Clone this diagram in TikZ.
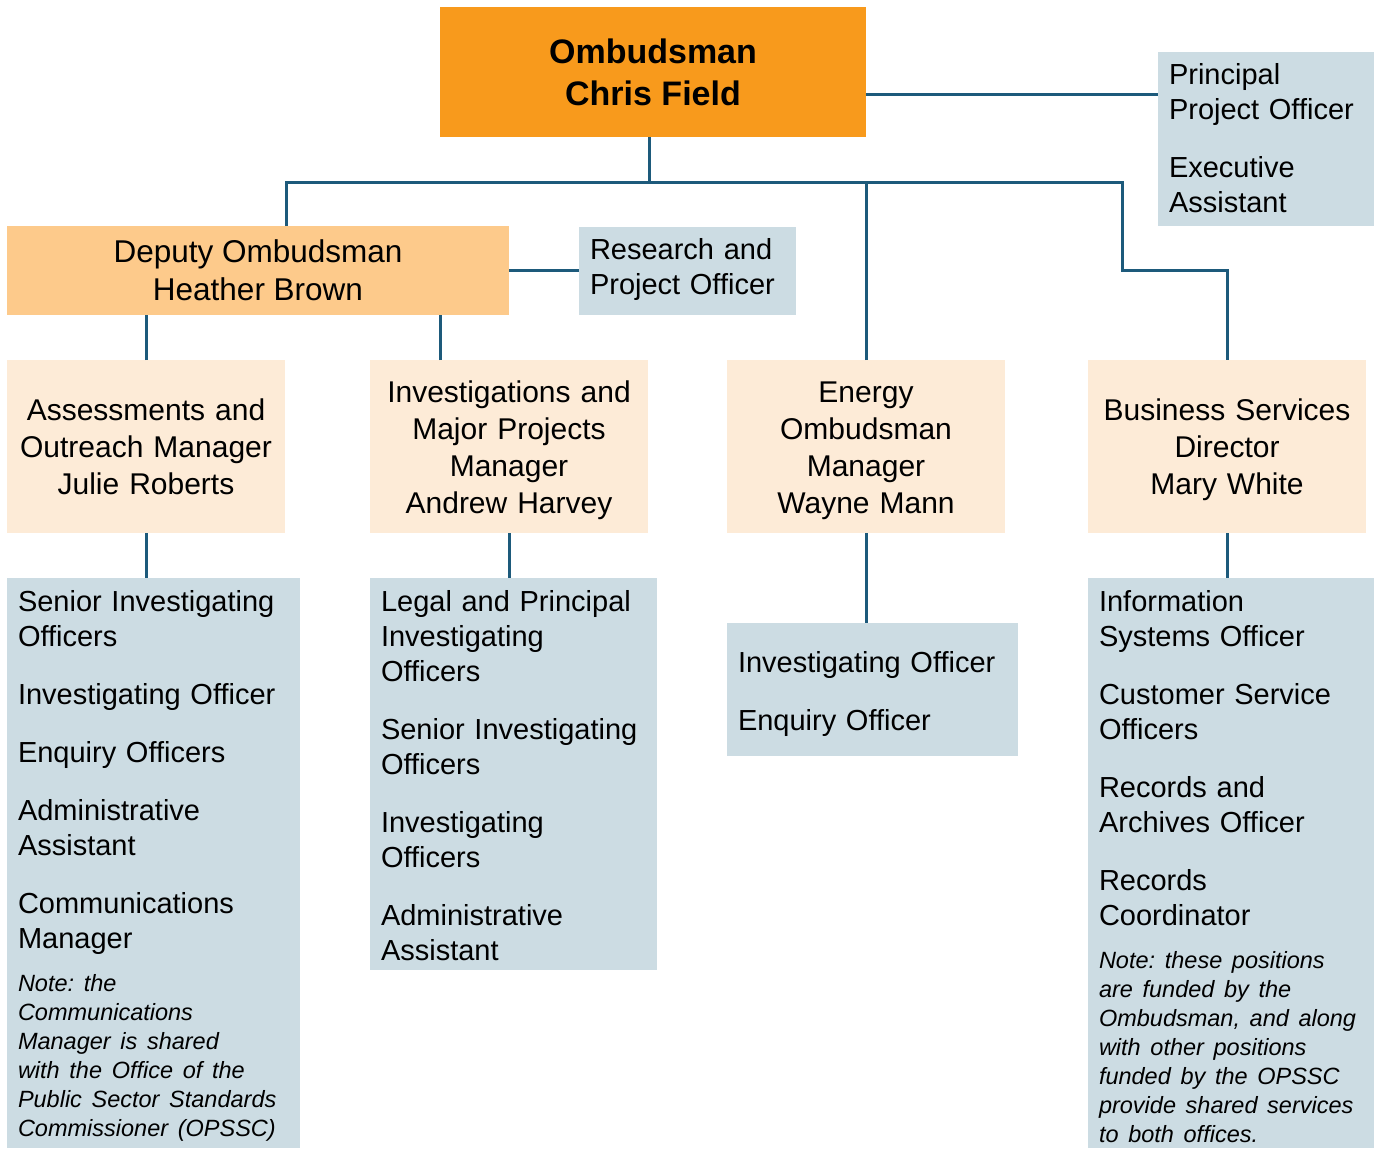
\documentclass[tikz,border=0pt]{standalone}
\usepackage{fontspec}
\setmainfont{Liberation Sans}
\definecolor{ombor}{HTML}{F89A1C}
\definecolor{deplt}{HTML}{FDCA8B}
\definecolor{mgrlt}{HTML}{FDEBD7}
\definecolor{staff}{HTML}{CCDCE3}
\definecolor{linec}{HTML}{1D5A7B}
\newcommand{\notefont}{\fontsize{23.5}{29}\selectfont\itshape}
\newcommand{\topline}[1]{\rule{0pt}{#1}}
\begin{document}
\frenchspacing
\begin{tikzpicture}[x=1pt,y=-1pt]
\tikzset{
 box/.style={draw=none, inner sep=0pt, outer sep=0pt},
 ombbox/.style={box, fill=ombor, minimum width=426pt, minimum height=130pt, align=center, font=\fontsize{34}{42}\selectfont\bfseries},
 depbox/.style={box, fill=deplt, minimum width=502pt, minimum height=89pt, align=center, font=\fontsize{31.5}{38}\selectfont},
 mgrbox/.style={box, fill=mgrlt, minimum width=278pt, minimum height=173pt, align=center, text width=272pt, font=\fontsize{30}{37}\selectfont,
   execute at begin node={\topline{33.9pt}}, execute at end node={\strut}},
 staffbox/.style={box, fill=staff, inner xsep=11pt, align=left, font=\fontsize{29}{35}\selectfont},
 conn/.style={draw=linec, line width=3pt}
}
\useasboundingbox (0,0) rectangle (1380,1149);
\fill[white] (0,0) rectangle (1380,1149);

\node[ombbox] (omb) at (653,72) {Ombudsman\\Chris Field};
\node[staffbox, text width=194pt, minimum height=174pt] (pri) at (1266,139) {Principal\\Project Officer\\[23pt]Executive\\Assistant\rule[-3pt]{0pt}{3pt}};
\node[depbox] (dep) at (258,270.5) {Deputy Ombudsman\\Heather Brown};
\node[staffbox, text width=195pt, minimum height=88pt] (res) at (687.5,271) {Research and\\Project Officer\rule[-10pt]{0pt}{10pt}};

\node[mgrbox] (ass) at (146,446.5) {Assessments and\\Outreach Manager\\Julie Roberts};
\node[mgrbox] (inv) at (509,446.5) {Investigations and\\Major Projects\\Manager\\Andrew Harvey};
\node[mgrbox] (en) at (866,446.5) {Energy\\Ombudsman\\Manager\\Wayne Mann};
\node[mgrbox] (bus) at (1227,446.5) {Business Services\\Director\\Mary White};

\node[staffbox, text width=271pt, minimum height=570pt] (s1) at (153.5,863) {\topline{26.5pt}Senior Investigating\\Officers\\[23pt]Investigating Officer\\[23pt]Enquiry Officers\\[23pt]Administrative\\Assistant\\[23pt]Communications\\Manager\par\vspace{14.5pt}{\notefont Note: the\\Communications\\Manager is shared\\with the Office of the\\Public Sector Standards\\Commissioner (OPSSC)\par}};
\node[staffbox, text width=265pt, minimum height=392pt] (s2) at (513.5,774) {\topline{25pt}Legal and Principal\\Investigating\\Officers\\[23pt]Senior Investigating\\Officers\\[23pt]Investigating\\Officers\\[23pt]Administrative\\Assistant};
\node[staffbox, text width=269pt, minimum height=133pt] (s3) at (872.5,689.5) {\topline{29pt}Investigating Officer\\[23pt]Enquiry Officer};
\node[staffbox, text width=264pt, minimum height=570pt] (s4) at (1231,863) {\topline{28.5pt}Information\\Systems Officer\\[23pt]Customer Service\\Officers\\[23pt]Records and\\Archives Officer\\[23pt]Records\\Coordinator\par\vspace{14.5pt}{\notefont Note: these positions\\are funded by the\\Ombudsman, and along\\with other positions\\funded by the OPSSC\\provide shared services\\to both offices.\par}};

\coordinate (busL) at (286,182);
\coordinate (busR) at (1122,182);
\coordinate (dj) at (440,360);

\draw[conn] ([yshift=-22pt]omb.east) coordinate (oe) -- (oe -| pri.west);
\draw[conn] ([xshift=-4pt]omb.south) coordinate (os) -- (os |- busL);
\draw[conn] (busL |- dep.north) -- (busL) -- (busR) -- ++(0,88) -| (bus.north);
\draw[conn] (en.north) -- (en.north |- busL);
\draw[conn] (dep.east) -- (dep.east -| res.west);
\draw[conn] (ass.north) -- (ass.north |- dep.south);
\draw[conn] (dj) -- (dj |- dep.south);
\draw[conn] (ass.south) -- (ass.south |- s1.north);
\draw[conn] (inv.south) -- (inv.south |- s2.north);
\draw[conn] (en.south) -- (en.south |- s3.north);
\draw[conn] (bus.south) -- (bus.south |- s4.north);
\end{tikzpicture}
\end{document}
